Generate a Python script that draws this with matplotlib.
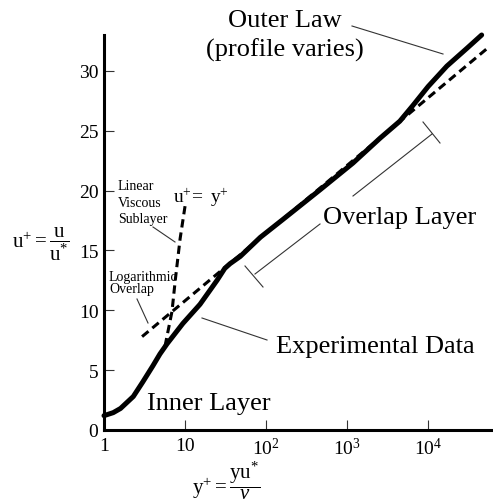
#!/usr/bin/env python3
"""Turbulent boundary layer velocity profile sketch (law of the wall)."""
import matplotlib
matplotlib.use('Agg')
import matplotlib.pyplot as plt
from matplotlib.lines import Line2D

plt.rcParams['font.family'] = ['Liberation Serif', 'DejaVu Serif']
plt.rcParams['mathtext.fontset'] = 'custom'
plt.rcParams['mathtext.rm'] = 'Liberation Serif'
plt.rcParams['mathtext.it'] = 'Liberation Serif:italic'
plt.rcParams['lines.scale_dashes'] = False

# experimental profile (solid)
exp_yplus = [1.0, 1.3, 1.6, 2.3, 3.0, 4.0, 4.9, 6.0, 9.4, 15.3, 24.8, 30.9, 36, 48,
             85, 162, 470, 1180, 2570, 4470, 6460, 10000, 17000, 30200, 45700]
exp_uplus = [1.2, 1.45, 1.8, 2.8, 4.0, 5.35, 6.35, 7.2, 8.9, 10.5, 12.5, 13.5, 13.9, 14.5,
             16.1, 17.6, 20.1, 22.3, 24.4, 25.8, 27.1, 28.7, 30.4, 31.9, 33.0]

# linear viscous sublayer u+ = y+ (dashed, as sketched)
lin_yplus = [5.66, 6.9, 7.6, 8.7, 10.0]
lin_uplus = [7.0, 9.9, 12.6, 16.0, 18.7]

# logarithmic overlap (dashed straight line on semi-log axes)
log_yplus = [2.95, 54000]
log_uplus = [7.8, 31.9]

xticks = [1, 10, 100, 1000, 10000]
xtick_labels = ['1', '10', r'$10^{2}$', r'$10^{3}$', r'$10^{4}$']
yticks = [0, 5, 10, 15, 20, 25, 30]

W, H = 493, 502


def px(x, y):
    # pixel position -> figure fraction
    return x / W, 1 - y / H


def leader(fig, x0, y0, x1, y1):
    a, b = px(x0, y0)
    c, d = px(x1, y1)
    fig.add_artist(Line2D([a, c], [b, d], transform=fig.transFigure,
                          color='#333333', lw=0.8))


def label(fig, x, y, s, size=19, **kw):
    fx, fy = px(x, y)
    fig.text(fx, fy, s, fontsize=size, va='baseline', **kw)


def main():
    fig = plt.figure(figsize=(W / 100, H / 100), dpi=100)
    ax = fig.add_axes([104 / W, 71 / H, 389 / W, 395 / H])

    ax.plot(exp_yplus, exp_uplus, color='black', lw=3.6, clip_on=False,
            solid_capstyle='round', solid_joinstyle='round')
    ax.plot(log_yplus, log_uplus, color='black', lw=2.2, dashes=(6, 3.6),
            clip_on=False)
    ax.plot(lin_yplus, lin_uplus, color='black', lw=2.2, dashes=(6, 3.6),
            clip_on=False)

    ax.set_xscale('log')
    ax.set_xlim(1, 10 ** 4.8)
    ax.set_ylim(0, 33)
    ax.set_xticks(xticks)
    ax.set_xticklabels(xtick_labels)
    ax.set_yticks(yticks)
    ax.minorticks_off()
    ax.tick_params(direction='in', length=7, width=0.8, labelsize=14,
                   color='#333333')
    ax.tick_params(axis='x', pad=5)
    ax.tick_params(axis='y', pad=4)
    for side in ['top', 'right']:
        ax.spines[side].set_visible(False)
    for side in ['left', 'bottom']:
        ax.spines[side].set_linewidth(2.2)

    # axis labels
    fx, fy = px(12, 244)
    fig.text(fx, fy, r'$\mathrm{u}^{+} = \dfrac{\mathrm{u}}{\mathrm{u}^{*}}$',
             fontsize=15, va='center', ha='left')
    fx, fy = px(226, 481)
    fig.text(fx, fy, r'$\mathrm{y}^{+} = \dfrac{\mathrm{yu}^{*}}{\nu}$',
             fontsize=15, va='center', ha='center')

    # annotations
    label(fig, 285, 27, 'Outer Law', ha='center')
    label(fig, 285, 57, '(profile varies)', ha='center')
    leader(fig, 352, 27, 443, 55)

    label(fig, 323, 224, 'Overlap Layer')
    leader(fig, 353, 197, 432, 135)
    leader(fig, 423, 123, 440, 144)
    leader(fig, 320, 225, 255, 275)
    leader(fig, 245, 267, 263, 288)

    label(fig, 276, 353, 'Experimental Data')
    leader(fig, 202, 319, 267, 341)

    label(fig, 147, 410, 'Inner Layer')

    label(fig, 118, 190, 'Linear', size=10)
    label(fig, 118, 207, 'Viscous', size=10)
    label(fig, 118, 223, 'Sublayer', size=10)
    leader(fig, 153, 228, 175, 243)

    label(fig, 109, 281, 'Logarithmic', size=10)
    label(fig, 109, 293, 'Overlap', size=10)
    leader(fig, 137, 300, 148, 324)

    label(fig, 173, 203, r'$\mathrm{u}^{+}\!=\ \mathrm{y}^{+}$', size=14)

    fig.savefig('out.png', dpi=100)
    plt.close(fig)


if __name__ == '__main__':
    main()
